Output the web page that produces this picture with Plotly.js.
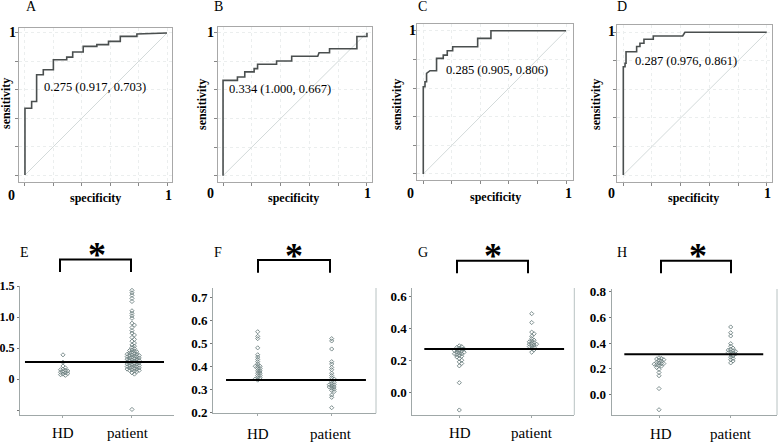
<!DOCTYPE html>
<html><head><meta charset="utf-8">
<script src="https://cdn.plot.ly/plotly-3.0.1.min.js"></script>
<style>html,body{margin:0;padding:0;background:#fff}#chart{width:778px;height:442px}</style>
</head><body><div id="chart"></div>
<script>
// ---------- ROC curves (x = 1 - specificity, y = sensitivity) ----------
const rocA_x = [0,0,0.047,0.047,0.082,0.082,0.129,0.129,0.2,0.2,0.294,0.294,0.336,0.336,0.41,0.41,0.506,0.506,0.588,0.588,0.671,0.671,0.788,0.788,1];
const rocA_y = [0,0.47,0.47,0.518,0.518,0.706,0.706,0.741,0.741,0.812,0.812,0.83,0.83,0.866,0.866,0.906,0.906,0.918,0.918,0.941,0.941,0.976,0.976,0.993,1];
const rocB_x = [0,0,0.1,0.1,0.151,0.151,0.216,0.216,0.24,0.24,0.372,0.372,0.477,0.477,0.658,0.667,0.74,0.74,0.93,0.93,1,1];
const rocB_y = [0,0.667,0.667,0.69,0.69,0.726,0.726,0.749,0.749,0.779,0.779,0.802,0.802,0.835,0.835,0.86,0.86,0.888,0.888,0.974,0.974,1];
const rocC_x = [0,0,0.012,0.012,0.023,0.023,0.047,0.093,0.093,0.14,0.14,0.168,0.168,0.206,0.206,0.381,0.381,0.474,0.474,1];
const rocC_y = [0,0.609,0.609,0.644,0.644,0.702,0.721,0.721,0.807,0.807,0.83,0.83,0.86,0.86,0.888,0.888,0.947,0.947,1,1];
const rocD_x = [0,0,0.012,0.012,0.019,0.019,0.093,0.093,0.116,0.116,0.144,0.144,0.209,0.209,0.414,0.43,1];
const rocD_y = [0,0.759,0.759,0.783,0.783,0.864,0.864,0.9,0.9,0.923,0.923,0.951,0.951,0.974,0.974,1,1];
const rocLabels = ["0.275 (0.917, 0.703)","0.334 (1.000, 0.667)","0.285 (0.905, 0.806)","0.287 (0.976, 0.861)"];
const panelLetters = ["A","B","C","D","E","F","G","H"];
const groupLabels = ["HD","patient"];

// ---------- dot plots ----------
const E_HD = [0.39,0.27,0.21,0.18,0.16,0.15,0.14,0.13,0.12,0.11,0.10,0.09,0.08,0.07,0.06];
const E_patient = [1.43,1.39,1.35,1.30,1.25,1.10,1.06,1.02,0.98,0.90,0.87,0.83,0.78,0.74,0.71,0.67,0.64,0.61,0.58,0.55,0.53,0.51,0.49,0.47,0.46,0.45,0.44,0.43,0.42,0.41,0.40,0.40,0.39,0.38,0.38,0.37,0.36,0.36,0.35,0.34,0.34,0.33,0.32,0.32,0.31,0.30,0.30,0.29,0.28,0.28,0.27,0.26,0.26,0.25,0.24,0.24,0.23,0.22,0.22,0.21,0.20,0.20,0.19,0.18,0.18,0.17,0.16,0.16,0.15,0.14,0.14,0.13,0.12,0.10,0.08,-0.49];
const F_HD = [0.55,0.53,0.52,0.48,0.45,0.44,0.43,0.42,0.41,0.40,0.40,0.40,0.39,0.39,0.38,0.38,0.37,0.37,0.36,0.36,0.35,0.35,0.345,0.34];
const F_patient = [0.52,0.51,0.475,0.42,0.41,0.395,0.385,0.37,0.36,0.35,0.345,0.335,0.33,0.325,0.32,0.32,0.315,0.31,0.31,0.305,0.30,0.295,0.29,0.275,0.265,0.22];
const G_HD = [0.29,0.285,0.28,0.275,0.27,0.27,0.265,0.26,0.26,0.255,0.25,0.25,0.245,0.24,0.24,0.235,0.23,0.225,0.22,0.21,0.20,0.19,0.18,0.165,0.06,-0.11];
const G_patient = [0.49,0.435,0.375,0.365,0.35,0.335,0.325,0.32,0.315,0.31,0.305,0.30,0.30,0.295,0.29,0.285,0.28,0.275,0.265,0.25];
const H_HD = [0.285,0.28,0.275,0.27,0.265,0.26,0.25,0.245,0.24,0.24,0.235,0.23,0.225,0.22,0.21,0.195,0.17,0.145,0.045,-0.12];
const H_patient = [0.525,0.48,0.455,0.395,0.375,0.36,0.35,0.345,0.34,0.335,0.33,0.325,0.32,0.315,0.31,0.30,0.29,0.28,0.27,0.26,0.245];
const cutoffs = [0.275, 0.34, 0.27, 0.312];
const E_ticks = [-0.5,0,0.5,1.0,1.5], E_tickText = ["","0","0.5","1.0","1.5"];
const F_ticks = [0.2,0.3,0.4,0.5,0.6,0.7], F_tickText = ["0.2","0.3","0.4","0.5","0.6","0.7"];
const G_ticks = [0,0.2,0.4,0.6], G_tickText = ["0.0","0.2","0.4","0.6"];
const H_ticks = [0,0.2,0.4,0.6,0.8], H_tickText = ["0.0","0.2","0.4","0.6","0.8"];

// ---------- layout helpers ----------
const W = 778, Hh = 442;
const px = v => v / W, py = v => 1 - v / Hh;
const SERIF = "Liberation Serif, Times New Roman, serif";

const data = [], shapes = [], annotations = [];
const layout = {width: W, height: Hh, margin: {l:0,r:0,t:0,b:0}, showlegend: false,
  paper_bgcolor: "#fff", plot_bgcolor: "rgba(0,0,0,0)", shapes, annotations};

// ROC panels
const rocX = [rocA_x, rocB_x, rocC_x, rocD_x], rocY = [rocA_y, rocB_y, rocC_y, rocD_y];
const rocBox = [
  {l:19, r:172, t:28, b:182, xr:[-0.042,1.035], yr:[-0.049,1.035]},
  {l:218, r:372, t:27, b:182, xr:[-0.035,1.035], yr:[-0.044,1.04]},
  {l:417, r:573, t:24, b:180, xr:[-0.044,1.049], yr:[-0.042,1.047]},
  {l:617, r:772, t:25, b:182, xr:[-0.044,1.037], yr:[-0.049,1.051]}
];
const rocText = [
  {letter:[31,7], one:[13,33], zero:[11,195], oneX:[168,195], spec:[95,198], sens:[6,104], lab:[42,87]},
  {letter:[218,7], one:[210,33], zero:[210,193], oneX:[367,193], spec:[293,198], sens:[202,105], lab:[227,89]},
  {letter:[422,7], one:[412,31], zero:[411,193], oneX:[568,193], spec:[495,197], sens:[397,105], lab:[444,70]},
  {letter:[622,7], one:[611,32], zero:[611,193], oneX:[767,193], spec:[693,198], sens:[596,105], lab:[633,61]}
];
function ann(x, y, text, size, opts) {
  annotations.push(Object.assign({xref:"paper", yref:"paper", x: px(x), y: py(y), text,
    showarrow:false, xanchor:"center", yanchor:"middle",
    font:{family:SERIF, size, color:"#000"}}, opts || {}));
}
const boldFont = s => ({family:SERIF, size:s, color:"#000", weight:"bold"});
for (let i = 0; i < 4; i++) {
  const n = i + 1, b = rocBox[i], s = n === 1 ? "" : String(n);
  const common = {showline:true, mirror:true, linecolor:"#a8a8a8", linewidth:1,
    ticks:"outside", ticklen:3, tickcolor:"#888", tickvals:[0,0.2,0.4,0.6,0.8,1],
    showticklabels:false, showgrid:true, gridcolor:"#ebeeee", griddash:"dot", zeroline:false, fixedrange:true};
  layout["xaxis"+s] = Object.assign({}, common, {domain:[px(b.l), px(b.r)], range:b.xr, anchor:"y"+s});
  layout["yaxis"+s] = Object.assign({}, common, {domain:[py(b.b), py(b.t)], range:b.yr, anchor:"x"+s});
  data.push({x:[0,1], y:[0,1], xaxis:"x"+s, yaxis:"y"+s, mode:"lines", line:{color:"#d3dada", width:1}, hoverinfo:"skip"});
  data.push({x:rocX[i], y:rocY[i], xaxis:"x"+s, yaxis:"y"+s, mode:"lines", line:{color:"#4a4f4f", width:1.6}, hoverinfo:"skip"});
  const t = rocText[i];
  ann(t.letter[0], t.letter[1], panelLetters[i], 14);
  ann(t.one[0], t.one[1], "1", 14, {font:boldFont(14)});
  ann(t.zero[0], t.zero[1], "0", 14, {font:boldFont(14)});
  ann(t.oneX[0], t.oneX[1], "1", 14, {font:boldFont(14)});
  ann(t.spec[0], t.spec[1], "specificity", 12, {font:boldFont(12)});
  ann(t.sens[0], t.sens[1], "sensitivity", 12, {textangle:-90, font:boldFont(12)});
  ann(t.lab[0], t.lab[1], rocLabels[i], 12.5, {xanchor:"left"});
}

// Dot-plot panels
const groups = [[E_HD,E_patient],[F_HD,F_patient],[G_HD,G_patient],[H_HD,H_patient]];
const tickSets = [[E_ticks,E_tickText],[F_ticks,F_tickText],[G_ticks,G_tickText],[H_ticks,H_tickText]];
const dotBox = [
  {l:20, r:174, t:286, b:415, yr:[-0.58,1.5], xr:[0.377,2.609], line:[0.449,2.464], rightBorder:false, fs:12},
  {l:213, r:376, t:288, b:413.3, yr:[0.1957,0.74], xr:[0.396,2.599], line:[0.572,2.463], rightBorder:true, fs:13},
  {l:412.3, r:574.3, t:288, b:415, yr:[-0.141,0.65], xr:[0.351,2.588], line:[0.517,2.447], rightBorder:true, fs:13},
  {l:611.7, r:777, t:289, b:415, yr:[-0.161,0.821], xr:[0.340,2.646], line:[0.516,2.454], rightBorder:true, fs:13}
];
const dotText = [
  {letter:[24,253], star:[97,255], br:[60,131,259.5,272], hd:[63,433], pt:[128,433]},
  {letter:[218,253], star:[294,256], br:[258,330,260,272.7], hd:[258,434], pt:[331,434]},
  {letter:[423,253], star:[493,256], br:[457,528,260.7,273.3], hd:[460,433], pt:[532,433]},
  {letter:[622,253], star:[698,256], br:[661,731,260.7,273.3], hd:[661,434], pt:[731,434]}
];
function swarm(vals, center, pxX, pxY, d) {
  const order = vals.map((v,i)=>i).sort((a,b)=>vals[b]-vals[a]);
  const placed = [], xs = new Array(vals.length);
  for (const i of order) {
    const yp = vals[i]*pxY;
    for (let k = 0; k < 60; k++) {
      const off = (k === 0 ? 0 : (k % 2 ? 1 : -1) * Math.ceil(k/2)) * d;
      let ok = true;
      for (const p of placed) { const dy = p.y-yp, dx = p.x-off; if (dx*dx+dy*dy < d*d*0.8) { ok = false; break; } }
      if (ok) { placed.push({x:off, y:yp}); xs[i] = center + off/pxX; break; }
    }
  }
  return xs;
}
for (let i = 0; i < 4; i++) {
  const n = i + 5, s = String(n), b = dotBox[i];
  const pxX = (b.r - b.l) / (b.xr[1] - b.xr[0]);
  const pxY = (b.b - b.t) / (b.yr[1] - b.yr[0]);
  layout["xaxis"+s] = {domain:[px(b.l), px(b.r)], range:b.xr, anchor:"y"+s, showline:true, linecolor:"#a0a8a8",
    linewidth:1, ticks:"outside", ticklen:2, tickcolor:"#a0a8a8", tickvals:[1,2], showticklabels:false,
    showgrid:false, zeroline:false, fixedrange:true};
  layout["yaxis"+s] = {domain:[py(b.b), py(b.t)], range:b.yr, anchor:"x"+s, showline:true, linecolor:"#a0a8a8",
    linewidth:1, ticks:"outside", ticklen:2, tickcolor:"#777", tickvals:tickSets[i][0], ticktext:tickSets[i][1],
    tickfont:boldFont(b.fs), showgrid:false, zeroline:false, fixedrange:true};
  groups[i].forEach((vals, g) => {
    data.push({x: swarm(vals, g+1, pxX, pxY, 2.4), y: vals, xaxis:"x"+s, yaxis:"y"+s, mode:"markers",
      marker:{symbol:"diamond-open", size:3.2, color:"#6f8282", line:{width:0.9, color:"#6f8282"}}, hoverinfo:"skip"});
  });
  shapes.push({type:"line", xref:"x"+s, yref:"y"+s, x0:b.line[0], x1:b.line[1], y0:cutoffs[i], y1:cutoffs[i],
    line:{color:"#000", width:2}});
  if (b.rightBorder) shapes.push({type:"line", xref:"paper", yref:"paper", x0:px(b.r), x1:px(b.r), y0:py(b.t), y1:py(b.b),
    line:{color:"#b8c2c2", width:1}});
  const t = dotText[i];
  shapes.push({type:"path", xref:"paper", yref:"paper",
    path:`M ${px(t.br[0])} ${py(t.br[3])} L ${px(t.br[0])} ${py(t.br[2])} L ${px(t.br[1])} ${py(t.br[2])} L ${px(t.br[1])} ${py(t.br[3])}`,
    line:{color:"#000", width:2}});
  ann(t.letter[0], t.letter[1], panelLetters[i+4], 14);
  ann(t.star[0], t.star[1], "*", 36, {font:boldFont(36)});
  ann(t.hd[0], t.hd[1], groupLabels[0], 15);
  ann(t.pt[0], t.pt[1], groupLabels[1], 15);
}

Plotly.newPlot("chart", data, layout, {staticPlot:true, displayModeBar:false});
</script></body></html>
